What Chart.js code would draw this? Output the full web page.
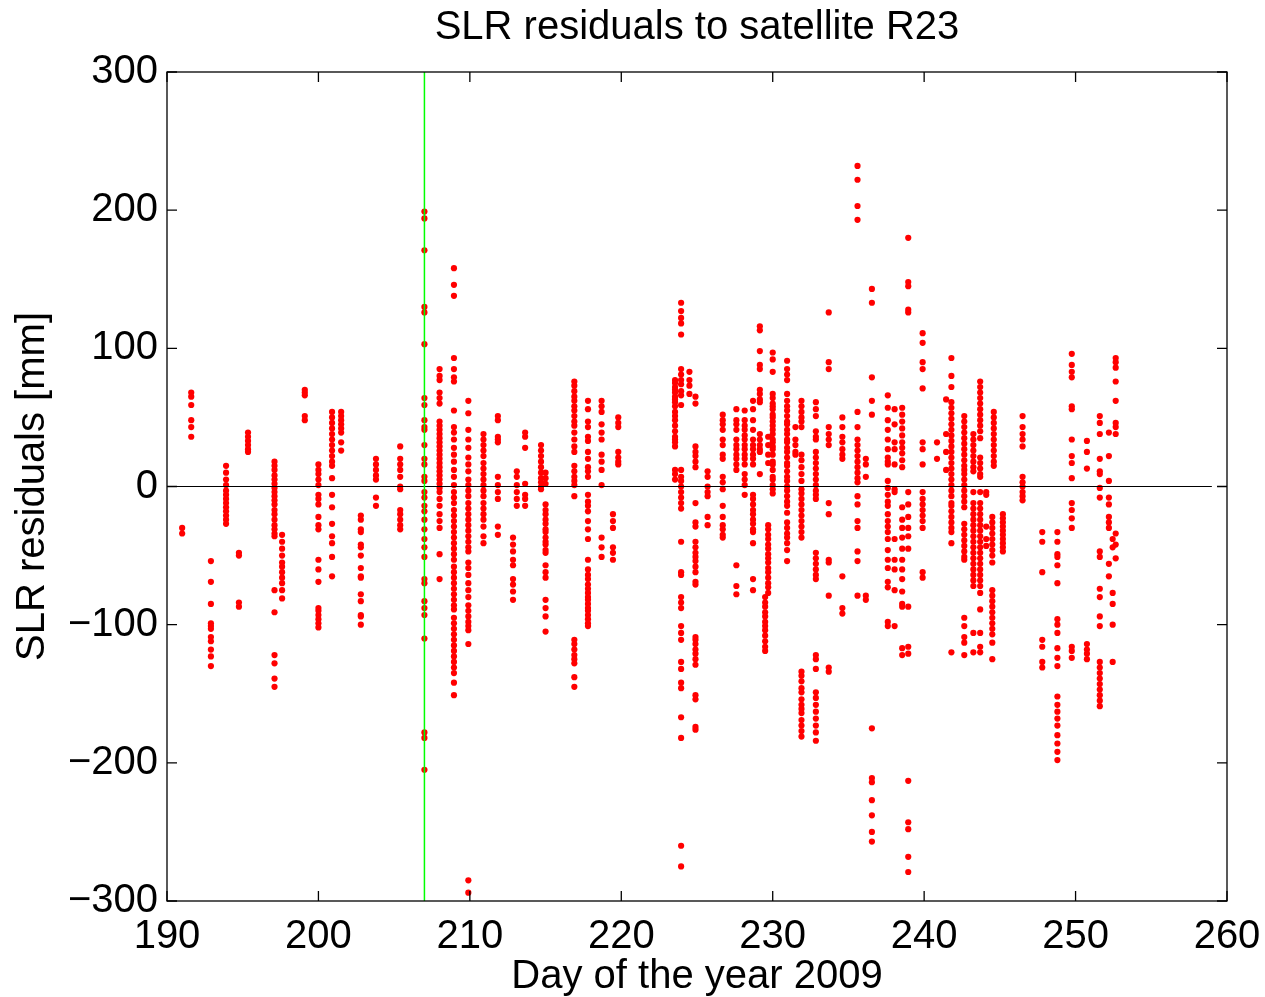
<!DOCTYPE html>
<html>
<head>
<meta charset="utf-8">
<title>SLR residuals to satellite R23</title>
<script src="https://cdn.jsdelivr.net/npm/chart.js@4.4.1/dist/chart.umd.min.js"></script>
<style>
  html, body { margin: 0; padding: 0; background: #fff; }
  canvas { display: block; }
</style>
</head>
<body>
<canvas id="slrChart" width="1265" height="997"></canvas>
<script>
// Axis limits and tick values
const xTicks = [190, 200, 210, 220, 230, 240, 250, 260];
const yTicks = [-300, -200, -100, 0, 100, 200, 300];
const referenceDay = 207.0;      // green marker line
const zeroLineDays = [190, 259];  // extent of the black zero line

// Day of year for each observation pass (one vertical track of points each)
const trackDays = [
  191.0, 191.6, 192.9, 193.9, 194.75, 195.35, 197.1, 197.6, 199.1, 200.0,
  200.9, 201.5, 202.8, 203.8, 205.4, 207.0, 208.0, 208.95, 209.9, 210.9,
  211.85, 213.1, 212.85, 213.65, 214.7, 215.0, 216.9, 217.8, 218.7, 219.45,
  219.8, 223.55, 223.95, 224.5, 224.9, 225.7, 226.7, 227.6, 228.15, 228.7,
  229.15, 229.5, 229.7, 230.0, 230.95, 231.5, 231.9, 232.85, 233.7, 234.6,
  235.6, 236.15, 236.55, 237.6, 238.05, 238.55, 238.95, 239.9, 240.85, 241.45,
  241.8, 242.65, 243.25, 243.7, 244.1, 244.5, 244.6, 245.2, 246.5, 247.8,
  248.8, 249.75, 250.75, 251.6, 252.2, 252.45, 252.65
];

// SLR residuals [mm] of each track, same order as trackDays
const trackResiduals = [
  [-30, -34],
  [68, 65, 59, 48, 43, 36],
  [-54, -69, -85, -99, -101, -103, -109, -112, -118, -123, -130],
  [15, 10, 5, 1, -3, -6, -9, -12, -15, -18, -21, -24, -27],
  [-48, -50, -84, -87],
  [39, 36, 33, 30, 27, 25],
  [18, 15, 12, 8, 5, 2, -1, -4, -7, -10, -13, -17, -20, -24, -28, -31, -34, -36, -75, -91, -122, -128, -139, -145],
  [-35, -40, -45, -50, -55, -58, -62, -66, -70, -75, -81],
  [70, 68, 66, 51, 48],
  [16, 12, 9, 5, 1, -6, -9, -13, -22, -28, -31, -53, -60, -69, -88, -90, -93, -96, -99, -102],
  [54, 50, 46, 42, 38, 34, 30, 26, 22, 18, 15, 6, -6, -15, -27, -36, -41, -51, -65],
  [54, 51, 48, 45, 42, 39, 32, 26],
  [-21, -24, -31, -33, -42, -44, -50, -59, -65, -66, -78, -83, -93, -94, -100],
  [20, 16, 12, 8, 5, -8, -14],
  [29, 20, 16, 12, 7, 0, -2, -17, -20, -24, -28, -31],
  [199, 194, 171, 130, 126, 103, 64, 59, 48, 43, 41, 30, 20, 16, 7, 4, -4, -8, -14, -18, -24, -31, -38, -44, -51, -67, -70, -83, -88, -93, -110, -178, -182, -205],
  [85, 80, 77, 68, 64, 60, 47, 44, 41, 38, 35, 32, 29, 26, 23, 20, 17, 14, 11, 8, 5, 2, -1, -4, -9, -14, -20, -25, -30, -49, -67],
  [158, 146, 138, 93, 85, 79, 76, 55, 43, 39, 34, 28, 23, 18, 12, 7, 1, -4, -8, -12, -17, -21, -25, -29, -33, -37, -41, -45, -49, -53, -58, -62, -66, -70, -74, -78, -82, -86, -89, -95, -99, -103, -107, -111, -115, -119, -123, -127, -131, -135, -142, -151],
  [62, 53, 41, 34, 28, 21, 16, 11, 5, 1, -3, -7, -12, -16, -20, -24, -28, -32, -36, -40, -44, -47, -55, -59, -64, -70, -75, -80, -86, -90, -94, -98, -101, -104, -114, -285, -294],
  [38, 34, 30, 26, 22, 17, 13, 9, 5, 1, -3, -7, -12, -16, -20, -24, -29, -36, -41],
  [51, 48, 36, 34, 32, 7, 1, -4, -9, -29, -35],
  [11, 7, 1, -4, -9, -14],
  [-37, -42, -47, -53, -57, -67, -71, -76, -82],
  [39, 36, 28, 2, -6, -9, -14],
  [30, 26, 22, 18, 14, 10, 6, 3, 0, -2],
  [10, 6, 2, -13, -17, -20, -24, -27, -31, -33, -37, -40, -42, -46, -48, -57, -62, -66, -82, -88, -94, -105],
  [76, 73, 69, 65, 62, 58, 55, 51, 47, 44, 39, 34, 29, 25, 15, 11, 7, 4, 1, -7, -111, -114, -118, -122, -125, -128, -138, -145],
  [62, 56, 47, 43, 36, 33, 25, 20, 14, 11, 7, -6, -11, -14, -18, -25, -31, -38, -53, -60, -64, -67, -71, -74, -77, -80, -82, -85, -88, -90, -93, -96, -99, -101],
  [62, 58, 54, 45, 39, 34, 23, 18, 12, 1, -37, -44, -51],
  [-20, -25, -30, -44, -48, -53],
  [50, 46, 43, 25, 21, 18, 16],
  [77, 75, 72, 70, 68, 65, 63, 61, 58, 54, 51, 48, 44, 40, 36, 34, 32, 29, 12, 9, 5],
  [133, 127, 122, 118, 110, 85, 81, 77, 74, 69, 66, 59, 12, 7, 4, 0, -4, -8, -12, -16, -40, -62, -64, -80, -84, -88, -101, -106, -111, -127, -132, -142, -146, -167, -182, -260, -275],
  [83, 77, 73, 67],
  [65, 60, 29, 25, 22, 18, 14, -12, -26, -29, -40, -44, -48, -51, -54, -58, -62, -69, -71, -109, -111, -114, -118, -121, -125, -129, -151, -154, -174, -176],
  [11, 7, 0, -4, -7, -22, -28],
  [52, 48, 45, 41, 34, 30, 23, 20, 7, 3, -2, -14, -22, -28, -31, -35, -37],
  [56, 48, 45, 41, 34, 30, 27, 23, 20, 16, 12, -57, -72, -78],
  [55, 48, 44, 41, 37, 34, 30, 27, 23, 20, 16, 9, 5, 1, -6],
  [62, 56, 48, 41, 34, 30, 27, 23, 20, 16, -6, -9, -13, -17, -20, -24, -27, -31, -33, -41, -67, -75],
  [116, 113, 98, 88, 85, 70, 67, 63, 61, 38, 34, 30, 27, 25, 9],
  [-80, -84, -87, -91, -94, -98, -101, -104, -108, -112, -116, -119],
  [36, 30, 23, 17, -28, -31, -35, -38, -42, -45, -49, -52, -55, -59, -62, -66, -70, -73, -77],
  [97, 92, 83, 67, 64, 60, 58, 56, 52, 50, 47, 44, 41, 38, 34, 32, 29, 27, 23, 18, 16, 12, 7, 5, 1, -2, -5],
  [91, 85, 81, 77, 67, 62, 58, 55, 51, 47, 45, 41, 38, 34, 32, 28, 25, 21, 17, 15, 11, 7, 4, 0, -3, -7, -11, -14, -19, -26, -30, -34, -37, -41, -46, -54],
  [43, 34, 30, 25, 23],
  [62, 58, 54, 50, 47, 43, 23, 19, 14, 9, 4, -2, -5, -9, -13, -17, -21, -25, -29, -33, -37, -134, -137, -141, -146, -149, -154, -158, -161, -164, -169, -173, -177, -181],
  [61, 56, 51, 40, 36, 34, 25, 21, 17, 13, 9, 5, 1, -3, -6, -9, -48, -52, -56, -60, -64, -67, -122, -125, -132, -149, -153, -158, -163, -168, -173, -178, -184],
  [126, 90, 85, 43, 38, 34, 30, -12, -20, -53, -55, -79, -131, -134],
  [50, 43, 36, 32, 27, 23, 20, -65, -88, -92],
  [232, 222, 203, 193, 54, 43, 34, 30, 26, 22, 18, 14, 10, 6, 3, -7, -13, -25, -30, -47, -54, -79],
  [20, 16, 7, -79, -82],
  [143, 133, 79, 62, 52, -175, -211, -214, -227, -238, -250, -257],
  [66, 57, 48, 41, 34, 27, 21, 18, 16, 4, -1, -6, -11, -14, -20, -25, -29, -33, -38, -46, -53, -59, -69, -73, -98, -101],
  [56, 45, 32, 27, 16, -2, -4, -38, -53, -60, -75, -101],
  [57, 52, 47, 42, 37, 32, 28, 24, 19, 14, -15, -24, -30, -37, -45, -53, -60, -67, -76, -85, -87, -117, -122],
  [180, 148, 145, 128, 126, -4, -13, -22, -30, -36, -45, -87, -116, -121, -213, -243, -248, -268, -279],
  [111, 104, 90, 85, 71, 32, 27, 16, -4, -9, -13, -17, -21, -25, -30, -62, -66],
  [32, 20],
  [63, 38, 25, 12],
  [93, 80, 72, 61, 57, 53, 49, 45, 41, 37, 33, 29, 25, 21, 17, 13, 9, 5, 1, -3, -7, -12, -14, -18, -22, -26, -30, -33, -41, -120],
  [51, 47, 43, 39, 35, 31, 27, 23, 19, 15, 12, 9, 5, 1, -3, -7, -11, -15, -27, -31, -35, -39, -43, -47, -51, -53, -95, -101, -109, -113, -122],
  [38, 34, 30, 26, 22, 18, 14, 11, -4, -12, -16, -20, -24, -28, -32, -36, -40, -44, -48, -52, -56, -60, -64, -68, -72, -106, -120],
  [76, 72, 68, 64, 60, 56, 52, 48, 44, 40, 35, 21, 17, 13, 9, 7, -4, -12, -16, -20, -24, -28, -32, -36, -40, -44, -48, -52, -56, -60, -64, -68, -72, -77, -89, -106, -116, -120],
  [-4, -6, -29, -38, -43],
  [-22, -26, -30, -34, -38, -42, -46, -50, -55, -75, -79, -83, -87, -91, -95, -99, -103, -107, -113, -125],
  [54, 50, 46, 42, 38, 34, 30, 26, 22, 18, 15],
  [-20, -23, -26, -29, -32, -35, -38, -41, -44, -47],
  [51, 43, 38, 34, 29, 7, 3, 0, -4, -7, -10],
  [-33, -40, -62, -111, -116, -127, -131],
  [-33, -40, -49, -51, -57, -70, -96, -100, -106, -117, -124, -130, -152, -158, -163, -168, -173, -180, -186, -192, -198],
  [96, 88, 83, 79, 58, 56, 34, 22, 17, 6, -12, -17, -23, -30, -116, -119, -124],
  [33, 25, 13, -114, -118, -121, -125],
  [51, 46, 38, 20, 11, 9, -1, -8, -47, -51, -74, -80, -94, -101, -127, -131, -135, -139, -143, -147, -151, -155, -159],
  [39, 22, 4, -8, -13, -22, -26, -30, -56, -65],
  [-38, -44, -77, -85, -100, -127],
  [93, 90, 86, 76, 62, 46, 43, 38, -34, -42, -52]
];

const FONT = "'Liberation Sans', Arial, Helvetica, sans-serif";

// Build scatter points from the track arrays
const residualPoints = [];
trackDays.forEach((day, i) => {
  trackResiduals[i].forEach(r => residualPoints.push({ x: day, y: r }));
});

// Draw the MATLAB-style box with inward tick marks
const boxFrame = {
  id: 'boxFrame',
  afterDraw(chart) {
    const { ctx, chartArea: a, scales: { x, y } } = chart;
    const tickLen = 10;
    ctx.save();
    ctx.strokeStyle = '#000';
    ctx.lineWidth = 1.3;
    ctx.strokeRect(a.left, a.top, a.width, a.height);
    ctx.beginPath();
    xTicks.forEach(v => {
      const px = x.getPixelForValue(v);
      ctx.moveTo(px, a.bottom);
      ctx.lineTo(px, a.bottom - tickLen);
      ctx.moveTo(px, a.top);
      ctx.lineTo(px, a.top + tickLen);
    });
    yTicks.forEach(v => {
      const py = y.getPixelForValue(v);
      ctx.moveTo(a.left, py);
      ctx.lineTo(a.left + tickLen, py);
      ctx.moveTo(a.right, py);
      ctx.lineTo(a.right - tickLen, py);
    });
    ctx.stroke();
    ctx.restore();
  }
};

const ctx = document.getElementById('slrChart').getContext('2d');
new Chart(ctx, {
  type: 'scatter',
  data: {
    datasets: [
      {
        label: 'reference day',
        data: [{ x: referenceDay, y: yTicks[0] }, { x: referenceDay, y: yTicks[yTicks.length - 1] }],
        showLine: true,
        borderColor: '#00ff00',
        borderWidth: 1.5,
        pointRadius: 0,
        order: 0
      },
      {
        label: 'zero',
        data: [{ x: zeroLineDays[0], y: 0 }, { x: zeroLineDays[1], y: 0 }],
        showLine: true,
        borderColor: '#000000',
        borderWidth: 1.2,
        pointRadius: 0,
        order: 0
      },
      {
        label: 'SLR residuals',
        data: residualPoints,
        pointRadius: 3.1,
        pointBackgroundColor: '#ff0000',
        pointBorderWidth: 0,
        order: 1
      }
    ]
  },
  options: {
    responsive: false,
    animation: false,
    devicePixelRatio: 1,
    layout: { padding: { left: 0, right: 38, top: 0, bottom: 0 } },
    plugins: {
      legend: { display: false },
      tooltip: { enabled: false },
      title: {
        display: true,
        text: 'SLR residuals to satellite R23',
        color: '#000',
        fullSize: false,
        font: { family: FONT, size: 40, weight: 'normal' },
        padding: { top: 4, bottom: 20 }
      }
    },
    scales: {
      x: {
        type: 'linear',
        min: xTicks[0],
        max: xTicks[xTicks.length - 1],
        grid: { display: false, drawTicks: false },
        border: { display: false },
        afterBuildTicks: scale => { scale.ticks = xTicks.map(v => ({ value: v })); },
        afterFit: scale => {
          scale.height = 96;
          scale.paddingLeft = 0;
          scale.paddingRight = 0;
        },
        ticks: {
          color: '#000',
          autoSkip: false,
          maxRotation: 0,
          padding: 12,
          font: { family: FONT, size: 40 }
        },
        title: {
          display: true,
          text: 'Day of the year 2009',
          color: '#000',
          padding: { top: 0, bottom: -4 },
          font: { family: FONT, size: 40 }
        }
      },
      y: {
        type: 'linear',
        min: yTicks[0],
        max: yTicks[yTicks.length - 1],
        grid: { display: false, drawTicks: false },
        border: { display: false },
        afterBuildTicks: scale => { scale.ticks = yTicks.map(v => ({ value: v })); },
        afterFit: scale => { scale.width = 167; },
        ticks: {
          color: '#000',
          autoSkip: false,
          padding: 9,
          font: { family: FONT, size: 40 },
          callback: v => String(v).replace('-', '\u2212')
        },
        title: {
          display: true,
          text: 'SLR residuals [mm]',
          color: '#000',
          padding: { top: 9, bottom: 0 },
          font: { family: FONT, size: 40 }
        }
      }
    }
  },
  plugins: [boxFrame]
});
</script>
</body>
</html>
